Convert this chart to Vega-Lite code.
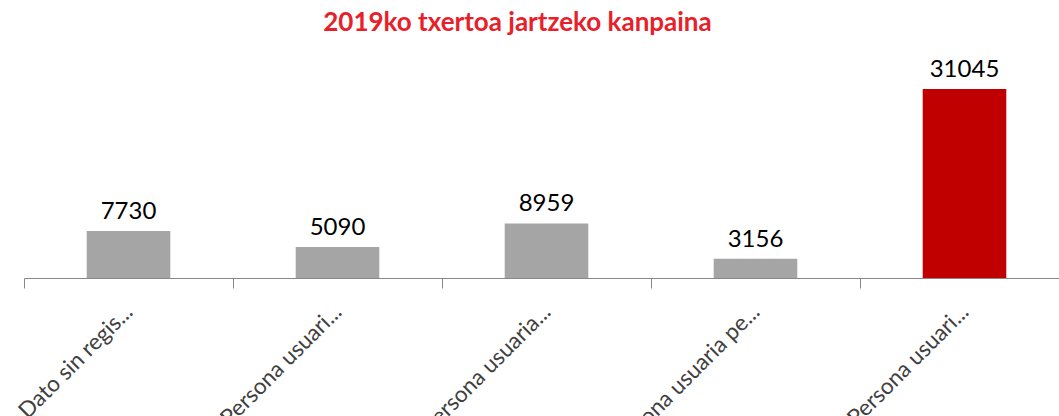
{
  "$schema": "https://vega.github.io/schema/vega-lite/v6.json",
  "autosize": "none",
  "width": 1035,
  "height": 230,
  "padding": {"left": 24, "top": 48, "right": 0, "bottom": 138},
  "background": "white",
  "title": {
    "text": "2019ko txertoa jartzeko kanpaina",
    "color": "#E8202A",
    "font": "Lato",
    "fontWeight": "bold",
    "fontSize": 26,
    "anchor": "middle",
    "dx": -24,
    "offset": 12
  },
  "data": {
    "values": [
      {"category": "Dato sin regis...", "value": 7730},
      {"category": "Persona usuari...", "value": 5090},
      {"category": "Persona usuaria...", "value": 8959},
      {"category": "Persona usuaria pe...", "value": 3156},
      {"category": "Persona usuari... ", "value": 31045}
    ]
  },
  "encoding": {
    "x": {
      "field": "category",
      "type": "nominal",
      "sort": null,
      "scale": {"paddingInner": 0, "paddingOuter": 0, "range": [0, 1045]},
      "axis": {
        "title": null,
        "labelAngle": -45,
        "labelAlign": "right",
        "labelBaseline": "middle",
        "labelFont": "Lato",
        "labelFontSize": 22.5,
        "labelColor": "#404040",
        "labelPadding": 20,
        "labelDx": -3,
        "labelOverlap": false,
        "labelLimit": 400,
        "labelBound": false,
        "tickBand": "extent",
        "tickSize": 10,
        "tickColor": "#888888",
        "domainColor": "#888888",
        "ticks": true
      }
    },
    "y": {
      "field": "value",
      "type": "quantitative",
      "scale": {"domain": [0, 37780], "nice": false},
      "axis": null
    }
  },
  "layer": [
    {
      "mark": {"type": "bar", "width": {"band": 0.4}},
      "encoding": {
        "color": {
          "condition": {"test": "datum.value == 31045", "value": "#C00000"},
          "value": "#A5A5A5"
        }
      }
    },
    {
      "mark": {"type": "text", "dy": -12, "baseline": "alphabetic", "font": "Lato", "fontSize": 24, "color": "#000000"},
      "encoding": {"text": {"field": "value", "type": "quantitative", "format": "d"}}
    }
  ],
  "config": {"view": {"stroke": null}}
}
